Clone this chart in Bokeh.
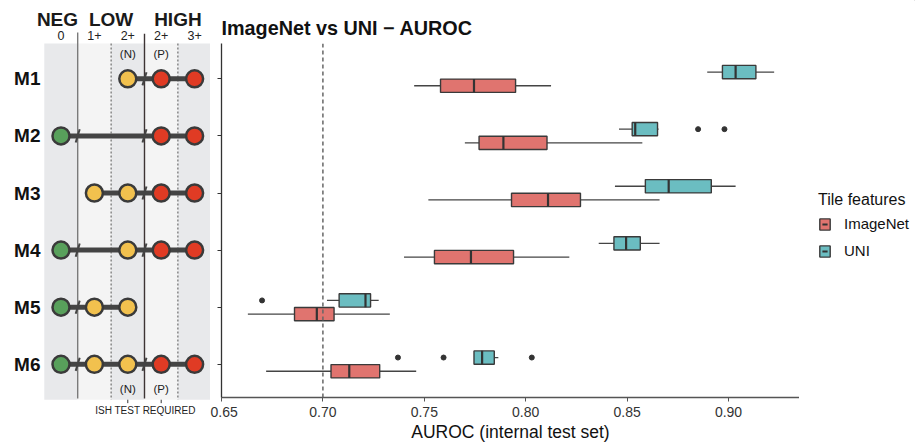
import math
from bokeh.plotting import figure
from bokeh.models import (Range1d, FixedTicker, Span, Legend, LegendItem)
from bokeh.layouts import row
from bokeh.embed import file_html
from bokeh.resources import INLINE
from bokeh.core.properties import value

FONT = "Liberation Sans"

# ---------------- data ----------------
models = ["M1", "M2", "M3", "M4", "M5", "M6"]

# left panel: HER2 status columns
status_groups = ["NEG", "LOW", "HIGH"]
status_cols = ["0", "1+", "2+", "2+", "3+"]
status_sub = ["(N)", "(P)"]
status_sub_cols = [2, 3]
coverage = [[2, 3, 4], [0, 3, 4], [1, 2, 3, 4], [0, 2, 3, 4], [0, 1, 2], [0, 1, 2, 3, 4]]
status_colors = ["#58A05B", "#F2C14E", "#F2C14E", "#E03B24", "#E03B24"]
ish_label = "ISH TEST REQUIRED"

# right panel: AUROC box statistics
feature_sets = ["ImageNet", "UNI"]
in_lo = [0.7450, 0.7700, 0.7520, 0.7400, 0.6630, 0.6720]
in_q1 = [0.7580, 0.7770, 0.7930, 0.7550, 0.6860, 0.7040]
in_med = [0.7745, 0.7890, 0.8110, 0.7730, 0.6970, 0.7130]
in_q3 = [0.7950, 0.8105, 0.8270, 0.7940, 0.7055, 0.7280]
in_hi = [0.8125, 0.8575, 0.8660, 0.8215, 0.7330, 0.7460]

uni_lo = [0.8895, 0.8460, 0.8440, 0.8360, 0.7020, 0.7745]
uni_q1 = [0.8970, 0.8525, 0.8590, 0.8435, 0.7080, 0.7745]
uni_med = [0.9035, 0.8540, 0.8705, 0.8495, 0.7210, 0.7785]
uni_q3 = [0.9135, 0.8650, 0.8915, 0.8565, 0.7235, 0.7845]
uni_hi = [0.9225, 0.8655, 0.9035, 0.8660, 0.7275, 0.7865]

uni_out_model = ["M2", "M2", "M5", "M6", "M6", "M6"]
uni_out_val = [0.8850, 0.8980, 0.6700, 0.7370, 0.7595, 0.8030]

x_ticks = [0.65, 0.70, 0.75, 0.80, 0.85, 0.90]
x_tick_labels = ["0.65", "0.70", "0.75", "0.80", "0.85", "0.90"]
ref_line = 0.70

RED = "#E0746F"
TEAL = "#6BBDC1"
DARK = "#3a3a3a"
COLORS = {"ImageNet": RED, "UNI": TEAL}

# ---------------- left panel ----------------
rows_pos = [i + 1 for i in range(len(models))]

L = figure(width=210, height=444, x_range=Range1d(-1.811, 4.476),
           y_range=Range1d(7.404, -0.371), output_backend="svg", title=None,
           toolbar_location=None, min_border=0, x_axis_type=None,
           y_axis_type=None, outline_line_color=None)
L.frame_align = False

band_l = [c - 0.5 for c in range(len(status_cols))]
band_r = [c + 0.5 for c in range(len(status_cols))]
band_c = ["#E8E9EB" if c % 2 == 0 else "#F4F4F4" for c in range(len(status_cols))]
L.quad(left=band_l, right=band_r, top=0.382, bottom=6.62, fill_color=band_c,
       line_color=None)

L.segment(x0=[0.5, 2.5], x1=[0.5, 2.5], y0=[0.19, 0.21], y1=[6.60, 6.60],
          line_color=["#7a7a7a", "#3d3434"], line_width=1.4)
L.segment(x0=[1.5, 3.5], x1=[1.5, 3.5], y0=0.382, y1=6.62,
          line_color="#555555", line_width=1, line_dash="2 2")

seg_x0 = [min(c) for c in coverage]
seg_x1 = [max(c) for c in coverage]
L.segment(x0=seg_x0, x1=seg_x1, y0=rows_pos, y1=rows_pos, line_color="#444444",
          line_width=5)

sx0, sx1, sy0, sy1 = [], [], [], []
for r, cov in zip(rows_pos, coverage):
    for b in (0.5, 2.5):
        if min(cov) < b < max(cov):
            sx0.append(b - 0.06); sx1.append(b + 0.06)
            sy0.append(r + 0.115); sy1.append(r - 0.115)
L.segment(x0=sx0, x1=sx1, y0=sy0, y1=sy1, line_color="#444444", line_width=2)

cx, cy, cc = [], [], []
for r, cov in zip(rows_pos, coverage):
    for c in cov:
        cx.append(c); cy.append(r); cc.append(status_colors[c])
L.scatter(x=cx, y=cy, size=17, fill_color=cc, line_color=DARK, line_width=2.5)

L.text(x=[-0.105, 1.5, 3.5], y=[-0.03] * 3, text=status_groups,
       text_font=value(FONT), text_font_style="bold", text_font_size="19px",
       text_align="center", text_baseline="middle", text_color="#1a1a1a")
L.text(x=list(range(len(status_cols))), y=[0.24] * len(status_cols),
       text=status_cols, text_font=value(FONT), text_font_size="12.5px",
       text_align="center", text_baseline="middle", text_color="#222222")
L.text(x=status_sub_cols, y=[0.57] * 2, text=status_sub, text_font=value(FONT),
       text_font_size="11.5px", text_align="center", text_baseline="middle",
       text_color="#222222")
L.text(x=status_sub_cols, y=[6.44] * 2, text=status_sub, text_font=value(FONT),
       text_font_size="11.5px", text_align="center", text_baseline="middle",
       text_color="#222222")
L.segment(x0=status_sub_cols, x1=status_sub_cols, y0=6.62, y1=6.68,
          line_color="#333333", line_width=1)
L.text(x=[2.53], y=[6.80], text=[ish_label], text_font=value(FONT),
       text_font_size="10px", text_align="center", text_baseline="middle",
       text_color="#222222")
L.text(x=[-0.614] * len(models), y=rows_pos, text=models, text_font=value(FONT),
       text_font_style="bold", text_font_size="19px", text_align="right",
       text_baseline="middle", text_color="#111111")

# ---------------- right panel ----------------
p = figure(width=589, height=444, x_range=Range1d(0.65, 0.935),
           y_range=Range1d(6.58, 0.38), output_backend="svg",
           toolbar_location=None, min_border_left=11, min_border_right=0,
           min_border_top=43, min_border_bottom=47, outline_line_color=None)
p.frame_align = False
p.grid.visible = False

p.title.text = "ImageNet vs UNI \u2212 AUROC"
p.title.text_font = FONT
p.title.text_font_size = "19.8px"
p.title.text_font_style = "bold"
p.title.align = "left"
p.title.text_color = "#111111"

p.add_layout(Span(location=ref_line, dimension="height", line_color="#666666",
                  line_width=1.5, line_dash="4 3"))

offset = 0.12
bh = 0.233
for name, lo, q1, med, q3, hi, dy in [
        ("ImageNet", in_lo, in_q1, in_med, in_q3, in_hi, offset),
        ("UNI", uni_lo, uni_q1, uni_med, uni_q3, uni_hi, -offset)]:
    yy = [r + dy for r in rows_pos]
    p.segment(x0=lo, x1=q1, y0=yy, y1=yy, line_color="#444444", line_width=1.3)
    p.segment(x0=q3, x1=hi, y0=yy, y1=yy, line_color="#444444", line_width=1.3)
    p.hbar(y=yy, left=q1, right=q3, height=bh, fill_color=COLORS[name],
           line_color=DARK, line_width=1.4)
    p.scatter(x=med, y=yy, marker="dash", angle=math.pi / 2, size=13.5,
              line_color="#333333", line_width=2.2, fill_color=None)

out_y = [models.index(m) + 1 - offset for m in uni_out_model]
p.scatter(x=uni_out_val, y=out_y, size=5, fill_color="#333333",
          line_color="#333333")

# axes
p.xaxis.ticker = FixedTicker(ticks=x_ticks)
p.xaxis.major_label_overrides = dict(zip(x_ticks, x_tick_labels))
p.xaxis.minor_tick_line_color = None
p.xaxis.major_tick_in = 0
p.xaxis.major_tick_out = 4
p.xaxis.axis_line_color = "#555555"
p.xaxis.major_tick_line_color = "#555555"
p.xaxis.axis_line_width = 1.3
p.xaxis.major_label_text_font = FONT
p.xaxis.major_label_text_font_size = "14px"
p.xaxis.major_label_text_color = "#333333"
p.xaxis.major_label_standoff = 5
p.xaxis.axis_label = "AUROC (internal test set)"
p.xaxis.axis_label_text_font = FONT
p.xaxis.axis_label_text_font_size = "17.5px"
p.xaxis.axis_label_text_font_style = "normal"
p.xaxis.axis_label_text_color = "#111111"
p.xaxis.axis_label_standoff = 2

p.yaxis.ticker = FixedTicker(ticks=rows_pos)
p.yaxis.major_label_overrides = {r: "" for r in rows_pos}
p.yaxis.major_label_standoff = 0
p.yaxis.minor_tick_line_color = None
p.yaxis.major_tick_in = 0
p.yaxis.major_tick_out = 4
p.yaxis.axis_line_color = "#333333"
p.yaxis.major_tick_line_color = "#333333"
p.yaxis.axis_line_width = 1.3

# ---------------- legend panel ----------------
G = figure(width=116, height=444, x_range=Range1d(0, 1), y_range=Range1d(0, 1),
           output_backend="svg", title=None, toolbar_location=None, min_border=0,
           x_axis_type=None, y_axis_type=None, outline_line_color=None)
G.frame_align = False
items = []
for name in feature_sets:
    # key glyphs placed outside the visible range; only the legend shows them
    kb = G.hbar(y=[5], left=[5], right=[6], height=0.1, fill_color=COLORS[name],
                line_color=DARK, line_width=1.4)
    km = G.scatter(x=[5], y=[5], marker="dash", angle=math.pi / 2, size=10,
                   line_color="#333333", line_width=2, fill_color=None)
    items.append(LegendItem(label=name, renderers=[kb, km]))

legend = Legend(items=items, title="Tile features", location=(19, 185),
                padding=0, margin=0, spacing=10, glyph_width=13, glyph_height=14,
                label_height=14, label_standoff=13, border_line_color=None,
                background_fill_alpha=0)
legend.title_text_font = FONT
legend.title_text_font_size = "16px"
legend.title_text_font_style = "normal"
legend.title_text_color = "#111111"
legend.title_standoff = 6
legend.label_text_font = FONT
legend.label_text_font_size = "15px"
legend.label_text_color = "#111111"
G.add_layout(legend, "center")

layout = row(L, p, G)
open("out.html", "w").write(file_html(layout, INLINE))
